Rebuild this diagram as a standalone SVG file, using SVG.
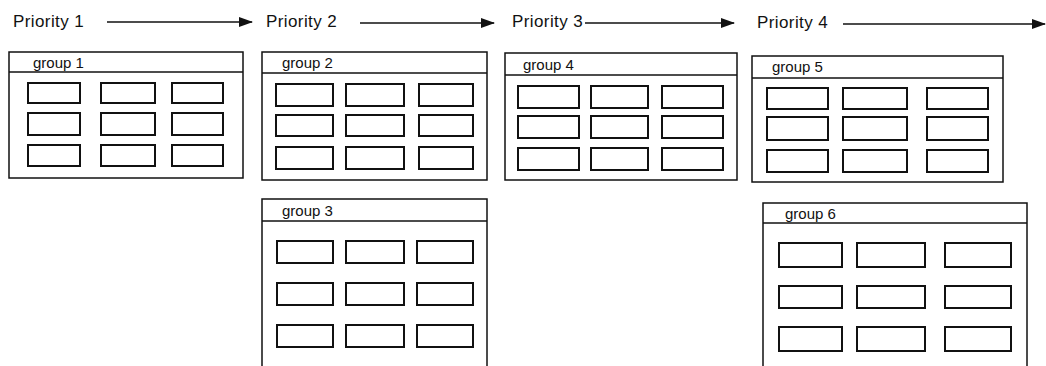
<svg xmlns="http://www.w3.org/2000/svg" width="1046" height="366" viewBox="0 0 1046 366">
  <style>
    .prio { font-family: "Liberation Sans", Arial, sans-serif; font-size: 17px; fill: #111; letter-spacing: 0.4px; }
    .label { font-family: "Liberation Sans", Arial, sans-serif; font-size: 15px; fill: #111; }
    .frame { fill: #fff; stroke: #111; stroke-width: 1.5; }
    .head { stroke: #111; stroke-width: 1.5; }
    .cell { fill: #fff; stroke: #111; stroke-width: 2; }
    .flow { stroke: #111; stroke-width: 1.5; fill: none; }
  </style>
  <defs>
    <marker id="tip" markerUnits="userSpaceOnUse" markerWidth="14" markerHeight="10" refX="13" refY="5" orient="auto">
      <path d="M0,0 L14,5 L0,10 Z" fill="#111"/>
    </marker>
  </defs>
  <rect width="1046" height="366" fill="#fff"/>

  <!-- priority labels -->
  <g id="priorities">
    <text class="prio" x="13" y="27">Priority 1</text>
    <text class="prio" x="266" y="27">Priority 2</text>
    <text class="prio" x="512" y="27">Priority 3</text>
    <text class="prio" x="757" y="28">Priority 4</text>
  </g>

  <!-- arrows between priority levels -->
  <g id="connectors">
    <line class="flow" x1="107" y1="22" x2="252" y2="22" marker-end="url(#tip)"/>
    <line class="flow" x1="360" y1="23" x2="494" y2="23" marker-end="url(#tip)"/>
    <line class="flow" x1="585" y1="23" x2="734" y2="23" marker-end="url(#tip)"/>
    <line class="flow" x1="843" y1="24" x2="1045" y2="24" marker-end="url(#tip)"/>
  </g>

  <g id="group1">
    <rect class="frame" x="9" y="52" width="234" height="126"/>
    <line class="head" x1="9" y1="72" x2="243" y2="72"/>
    <text class="label" x="33" y="68">group 1</text>
    <rect class="cell" x="28" y="83" width="52" height="20"/>
    <rect class="cell" x="101" y="83" width="54" height="20"/>
    <rect class="cell" x="172" y="83" width="51" height="20"/>
    <rect class="cell" x="28" y="113" width="52" height="22"/>
    <rect class="cell" x="101" y="113" width="54" height="22"/>
    <rect class="cell" x="172" y="113" width="51" height="22"/>
    <rect class="cell" x="28" y="145" width="52" height="21"/>
    <rect class="cell" x="101" y="145" width="54" height="21"/>
    <rect class="cell" x="172" y="145" width="51" height="21"/>
  </g>

  <g id="group2">
    <rect class="frame" x="262" y="52" width="225" height="128"/>
    <line class="head" x1="262" y1="73" x2="487" y2="73"/>
    <text class="label" x="282" y="68">group 2</text>
    <rect class="cell" x="276" y="84" width="57" height="22"/>
    <rect class="cell" x="346" y="84" width="58" height="22"/>
    <rect class="cell" x="419" y="84" width="54" height="22"/>
    <rect class="cell" x="276" y="115" width="57" height="21"/>
    <rect class="cell" x="346" y="115" width="58" height="21"/>
    <rect class="cell" x="419" y="115" width="54" height="21"/>
    <rect class="cell" x="276" y="147" width="57" height="22"/>
    <rect class="cell" x="346" y="147" width="58" height="22"/>
    <rect class="cell" x="419" y="147" width="54" height="22"/>
  </g>

  <g id="group3">
    <rect class="frame" x="262" y="199" width="225" height="190"/>
    <line class="head" x1="262" y1="221" x2="487" y2="221"/>
    <text class="label" x="282" y="216">group 3</text>
    <rect class="cell" x="277" y="241" width="56" height="22"/>
    <rect class="cell" x="346" y="241" width="58" height="22"/>
    <rect class="cell" x="417" y="241" width="56" height="22"/>
    <rect class="cell" x="277" y="283" width="56" height="22"/>
    <rect class="cell" x="346" y="283" width="58" height="22"/>
    <rect class="cell" x="417" y="283" width="56" height="22"/>
    <rect class="cell" x="277" y="325" width="56" height="22"/>
    <rect class="cell" x="346" y="325" width="58" height="22"/>
    <rect class="cell" x="417" y="325" width="56" height="22"/>
  </g>

  <g id="group4">
    <rect class="frame" x="505" y="53" width="232" height="127"/>
    <line class="head" x1="505" y1="75" x2="737" y2="75"/>
    <text class="label" x="523" y="70">group 4</text>
    <rect class="cell" x="518" y="86" width="61" height="22"/>
    <rect class="cell" x="591" y="86" width="57" height="22"/>
    <rect class="cell" x="662" y="86" width="61" height="22"/>
    <rect class="cell" x="518" y="116" width="61" height="22"/>
    <rect class="cell" x="591" y="116" width="57" height="22"/>
    <rect class="cell" x="662" y="116" width="61" height="22"/>
    <rect class="cell" x="518" y="148" width="61" height="22"/>
    <rect class="cell" x="591" y="148" width="57" height="22"/>
    <rect class="cell" x="662" y="148" width="61" height="22"/>
  </g>

  <g id="group5">
    <rect class="frame" x="752" y="56" width="251" height="126"/>
    <line class="head" x1="752" y1="78" x2="1003" y2="78"/>
    <text class="label" x="772" y="72">group 5</text>
    <rect class="cell" x="767" y="88" width="61" height="21"/>
    <rect class="cell" x="843" y="88" width="64" height="21"/>
    <rect class="cell" x="927" y="88" width="61" height="21"/>
    <rect class="cell" x="767" y="117" width="61" height="23"/>
    <rect class="cell" x="843" y="117" width="64" height="23"/>
    <rect class="cell" x="927" y="117" width="61" height="23"/>
    <rect class="cell" x="767" y="150" width="61" height="22"/>
    <rect class="cell" x="843" y="150" width="64" height="22"/>
    <rect class="cell" x="927" y="150" width="61" height="22"/>
  </g>

  <g id="group6">
    <rect class="frame" x="763" y="203" width="264" height="186"/>
    <line class="head" x1="763" y1="223" x2="1027" y2="223"/>
    <text class="label" x="785" y="219">group 6</text>
    <rect class="cell" x="779" y="243" width="63" height="24"/>
    <rect class="cell" x="857" y="243" width="68" height="24"/>
    <rect class="cell" x="945" y="243" width="66" height="24"/>
    <rect class="cell" x="779" y="286" width="63" height="22"/>
    <rect class="cell" x="857" y="286" width="68" height="22"/>
    <rect class="cell" x="945" y="286" width="66" height="22"/>
    <rect class="cell" x="779" y="327" width="63" height="24"/>
    <rect class="cell" x="857" y="327" width="68" height="24"/>
    <rect class="cell" x="945" y="327" width="66" height="24"/>
  </g>
</svg>
